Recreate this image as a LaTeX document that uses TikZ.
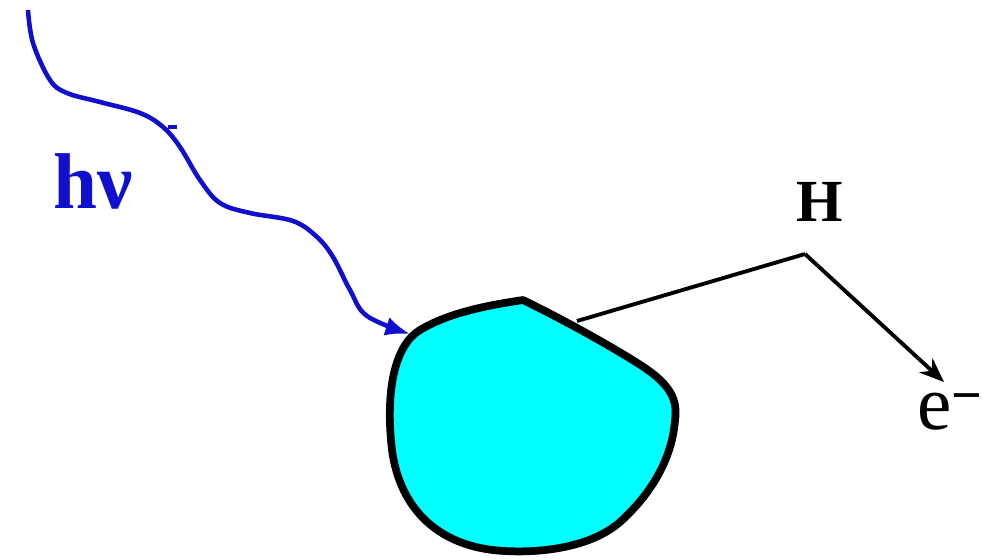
\documentclass[tikz,border=0pt]{standalone}
\usepackage{fontspec}
\setmainfont{Liberation Serif}
\usetikzlibrary{arrows.meta}
\definecolor{photon}{RGB}{15,15,205}
\definecolor{grain}{RGB}{0,255,255}
\tikzset{
  wave/.style={draw=photon, line width=2.6pt, -{Latex[length=14pt,width=11pt]}},
  grainshape/.style={draw=black, fill=grain, line width=4.4pt, line join=round},
  bond/.style={draw=black, line width=2.2pt},
  lbl/.style={inner sep=0pt, anchor=center}
}
\begin{document}
\begin{tikzpicture}[x=0.02cm, y=-0.02cm]
\useasboundingbox (0,0) rectangle (982,558);
% grain
\path[grainshape] (523,300)
  .. controls (560,318) and (615,348) .. (645,368)
  .. controls (670,385) and (678,400) .. (675,420)
  .. controls (672,460) and (650,495) .. (620,522)
  .. controls (590,548) and (540,553) .. (505,551)
  .. controls (440,548) and (400,510) .. (392,450)
  .. controls (385,390) and (395,345) .. (420,330)
  .. controls (450,312) and (490,305) .. (523,300) -- cycle;
\coordinate (surf) at (577,321);
\coordinate (hit) at (410,334);
\coordinate (hsite) at (805,254);
\coordinate (eend) at (944,382);
% photon
\draw[wave] plot[smooth, tension=0.6] coordinates {(28,10) (33,43) (50,80) (67,93) (100,102) (140,113) (163,127) (180,147) (200,180) (220,203) (250,213) (293,221) (317,237) (333,257) (350,290) (367,316) (hit)};
\draw[photon, line width=1.8pt] (168,127) -- (177,127);
% bond and electron
\draw[bond] (surf) -- (hsite);
\draw[bond, -{Stealth[length=14pt,width=11pt]}] (hsite) -- (eend);
% labels
\node[lbl, text=photon, font=\fontsize{45}{45}\selectfont\bfseries] (hnu) at (93,181) {hν};
\node[lbl, font=\fontsize{34}{34}\selectfont\bfseries] (H) at (820,202) {H};
\node[lbl, font=\fontsize{44}{44}\selectfont, anchor=west] (e) at (917,412) {e\textsuperscript{\bfseries −}};
\end{tikzpicture}
\end{document}
